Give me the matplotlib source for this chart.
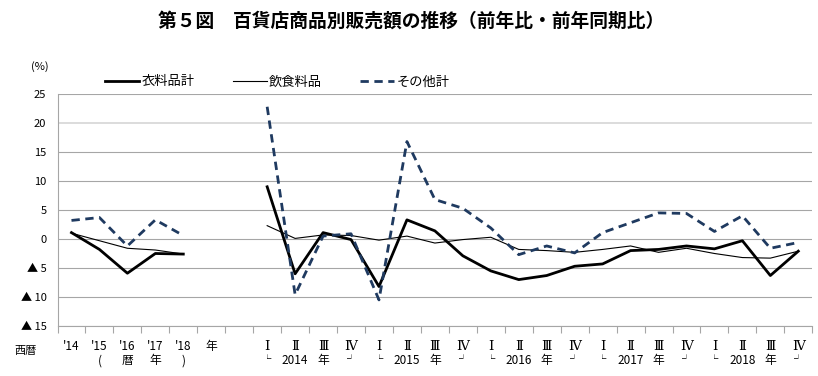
import matplotlib
matplotlib.use('Agg')
import matplotlib.pyplot as plt
import matplotlib.transforms as mtransforms
import numpy as np

plt.rcParams['font.family'] = ['Noto Sans CJK JP', 'DejaVu Sans']

# Category labels (first row / second row of the x axis)
row1_labels = ["'14", "'15", "'16", "'17", "'18", '年', '',
               'Ⅰ', 'Ⅱ', 'Ⅲ', 'Ⅳ', 'Ⅰ', 'Ⅱ', 'Ⅲ', 'Ⅳ', 'Ⅰ', 'Ⅱ', 'Ⅲ', 'Ⅳ',
               'Ⅰ', 'Ⅱ', 'Ⅲ', 'Ⅳ', 'Ⅰ', 'Ⅱ', 'Ⅲ', 'Ⅳ']
row2_labels = ['', '(', '暦', '年', ')', '', '',
               '└', '2014', '年', '┘', '└', '2015', '年', '┘', '└', '2016', '年', '┘',
               '└', '2017', '年', '┘', '└', '2018', '年', '┘']

# Annual values (2014-2018), %
annual_clothing = [1.1, -1.8, -5.9, -2.5, -2.6]
annual_food = [1.0, -0.3, -1.6, -1.9, -2.6]
annual_other = [3.2, 3.7, -1.2, 3.3, 0.6]

# Quarterly values (2014 I - 2018 IV), %
quarter_clothing = [9.0, -6.0, 1.1, -0.1, -8.2, 3.3, 1.4, -2.9, -5.5, -7.0,
                    -6.3, -4.7, -4.3, -2.0, -1.8, -1.2, -1.7, -0.3, -6.3, -2.1]
quarter_food = [2.3, 0.1, 0.7, 0.6, -0.2, 0.5, -0.7, -0.1, 0.3, -1.8,
                -2.0, -2.3, -1.8, -1.2, -2.3, -1.6, -2.5, -3.2, -3.3, -2.1]
quarter_other = [22.8, -9.6, 0.5, 0.9, -10.5, 16.8, 6.8, 5.3, 1.9, -2.7,
                 -1.2, -2.4, 1.1, 2.8, 4.5, 4.4, 1.3, 4.0, -1.6, -0.6]

yticks = [-15, -10, -5, 0, 5, 10, 15, 20, 25]
ytick_labels = ['▲ 15', '▲ 10', '▲ 5', '0', '5', '10', '15', '20', '25']

navy = '#1f3a60'

fig = plt.figure(figsize=(8.18, 3.76), dpi=100)
ax = fig.add_axes([0.0703, 0.133, 0.9227, 0.617])

xa = np.arange(len(annual_clothing))
xq = np.arange(len(quarter_clothing)) + 7

# annual part
ax.plot(xa, annual_clothing, color='black', linewidth=2.0, label='衣料品計')
ax.plot(xa, annual_food, color='black', linewidth=0.8, label='飲食料品')
ax.plot(xa, annual_other, color=navy, linewidth=2.0, dashes=(3, 2), label='その他計')
# quarterly part
ax.plot(xq, quarter_clothing, color='black', linewidth=2.0)
ax.plot(xq, quarter_food, color='black', linewidth=0.8)
ax.plot(xq, quarter_other, color=navy, linewidth=2.0, dashes=(3, 2))

ax.set_xlim(-0.5, len(row1_labels) - 0.5)
ax.set_ylim(-15, 25)

ax.set_yticks(yticks)
ax.set_yticklabels(ytick_labels, fontsize=8)
ax.tick_params(axis='y', length=0, pad=8)

ax.set_xticks(np.arange(len(row1_labels)))
ax.set_xticklabels(row1_labels, fontsize=8.5)
ax.set_xticks(np.arange(len(row1_labels) + 1) - 0.5, minor=True)
ax.tick_params(axis='x', which='major', length=0, pad=10)
ax.tick_params(axis='x', which='minor', length=5, color='#a6a6a6', width=0.8)

# roman numerals in a serif face, a bit larger
for t in ax.get_xticklabels():
    if t.get_text() in ('Ⅰ', 'Ⅱ', 'Ⅲ', 'Ⅳ'):
        t.set_fontfamily(['DejaVu Serif', 'Noto Sans CJK JP'])
        t.set_fontsize(9.5)

# second row of x labels
trans = mtransforms.blended_transform_factory(ax.transData, ax.transAxes)
for i, lab in enumerate(row2_labels):
    if lab in ('└', '┘'):
        ax.text(i, -0.145, lab, transform=trans, ha='center', va='center', fontsize=6)
    else:
        ax.text(i, -0.15, lab, transform=trans, ha='center', va='center', fontsize=8.5)

ax.grid(axis='y', color='#a6a6a6', linewidth=0.8)
ax.set_axisbelow(True)
ax.get_ygridlines()[yticks.index(20)].set_color('#d9d9d9')
ax.get_ygridlines()[yticks.index(20)].set_linewidth(1.3)

for s in ['top', 'right']:
    ax.spines[s].set_visible(False)
for s in ['left', 'bottom']:
    ax.spines[s].set_color('#a6a6a6')
    ax.spines[s].set_linewidth(0.8)

fig.text(0.502, 0.945, '第５図　百貨店商品別販売額の推移（前年比・前年同期比）',
         ha='center', va='center', fontsize=13.5, fontweight='bold')
fig.text(0.049, 0.822, '(%)', ha='center', va='center', fontsize=8)
fig.text(0.031, 0.066, '西暦', ha='center', va='center', fontsize=8)

ax.legend(loc='center left', bbox_to_anchor=(0.056, 1.052), ncol=3, frameon=False,
          fontsize=9.5, handlelength=2.6, handletextpad=0.15, columnspacing=2.9,
          borderaxespad=0)

fig.savefig('out.png', dpi=100)
